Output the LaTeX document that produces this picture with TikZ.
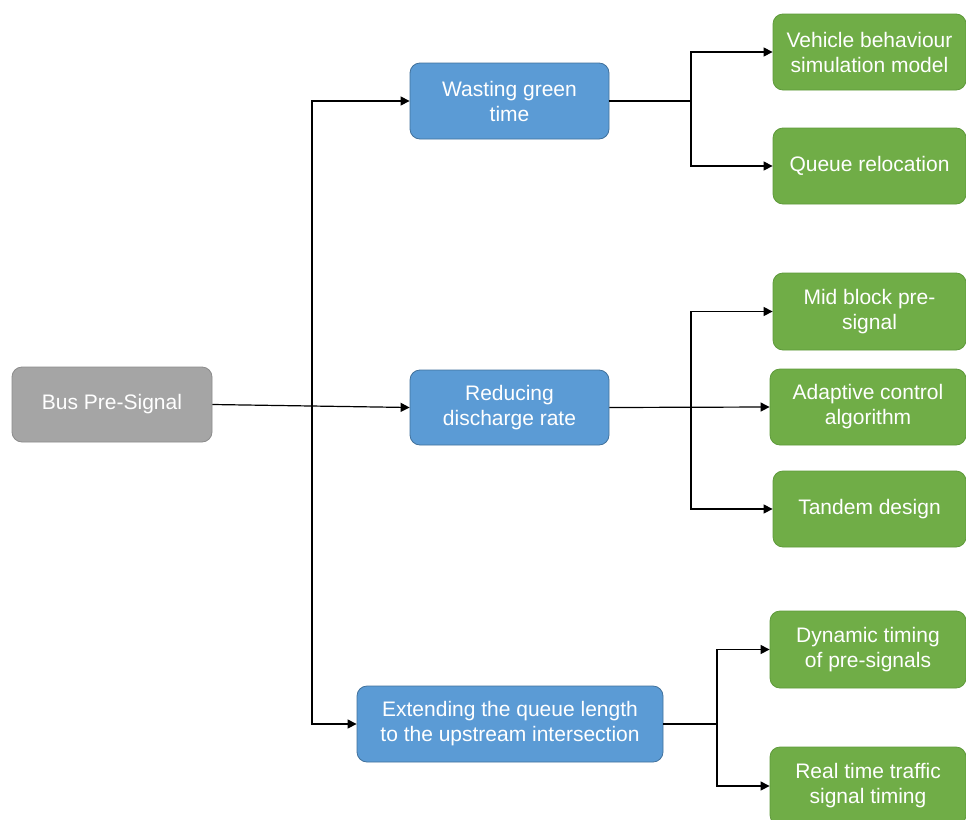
\documentclass[tikz,border=0pt]{standalone}
\usepackage{fontspec}
\setmainfont{Liberation Sans}
\usetikzlibrary{arrows.meta}
\definecolor{rootfill}{HTML}{A5A5A5}
\definecolor{rootline}{HTML}{8C8C8C}
\definecolor{bluefill}{HTML}{5B9BD5}
\definecolor{blueline}{HTML}{41719C}
\definecolor{greenfill}{HTML}{70AD47}
\definecolor{greenline}{HTML}{5E9A3A}
\begin{document}
\begin{tikzpicture}[x=1pt,y=-1pt,
  box/.style={rounded corners=10pt, line width=0.8pt, align=center,
    text=white, inner sep=0pt,
    font=\fontsize{21}{25}\selectfont},
  rootbox/.style={box, fill=rootfill, draw=rootline},
  topic/.style={box, fill=bluefill, draw=blueline},
  leaf/.style={box, fill=greenfill, draw=greenline},
  link/.style={line width=1.2pt, draw=black},
  arrow/.style={link, -{Triangle[length=9pt,width=9pt]}}]
  % page frame
  \fill[white] (0,0) rectangle (966,819);
  \useasboundingbox (0,0) rectangle (966,819);

  % root
  \node[rootbox, minimum width=200pt, minimum height=75pt] (root) at (112,404.5) {Bus Pre-Signal};

  % second level
  \node[topic, minimum width=199pt, minimum height=76pt] (wg) at (509.5,101) {Wasting green\\time};
  \node[topic, minimum width=199pt, minimum height=75pt] (rd) at (509.5,407.5) {Reducing\\discharge rate};
  \node[topic, minimum width=306pt, minimum height=76pt] (ex) at (510,724) {Extending the queue length\\to the upstream intersection};

  % leaves
  \node[leaf, minimum width=193pt, minimum height=76pt] (vb) at (869.5,52) {Vehicle behaviour\\simulation model};
  \node[leaf, minimum width=193pt, minimum height=76pt] (qr) at (869.5,166) {Queue relocation};
  \node[leaf, minimum width=193pt, minimum height=77pt] (mb) at (869.5,311.5) {Mid block pre-\\signal};
  \node[leaf, minimum width=196pt, minimum height=76pt] (ad) at (868,407) {Adaptive control\\algorithm};
  \node[leaf, minimum width=193pt, minimum height=76pt] (td) at (869.5,509) {Tandem design};
  \node[leaf, minimum width=196pt, minimum height=77pt] (dt) at (868,649.5) {Dynamic timing\\of pre-signals};
  \node[leaf, minimum width=196pt, minimum height=78pt] (rt) at (868,786) {Real time traffic\\signal timing};

  % junction points
  \coordinate (trunk) at (312,405.5);
  \coordinate (j1) at (691,101);
  \coordinate (j2) at (691,407);
  \coordinate (j3) at (717,724);

  % root to second level
  \draw[arrow] (root.east) -- (rd.west);
  \draw[arrow] (trunk) |- (wg.west);
  \draw[arrow] (trunk) |- (ex.west);

  % second level to leaves
  \draw[link] (wg.east) -- (j1);
  \draw[arrow] (j1) |- (vb.west);
  \draw[arrow] (j1) |- (qr.west);

  \draw[arrow] (rd.east) -- (ad.west);
  \draw[arrow] (j2) |- (mb.west);
  \draw[arrow] (j2) |- (td.west);

  \draw[link] (ex.east) -- (j3);
  \draw[arrow] (j3) |- (dt.west);
  \draw[arrow] (j3) |- (rt.west);
\end{tikzpicture}
\end{document}
